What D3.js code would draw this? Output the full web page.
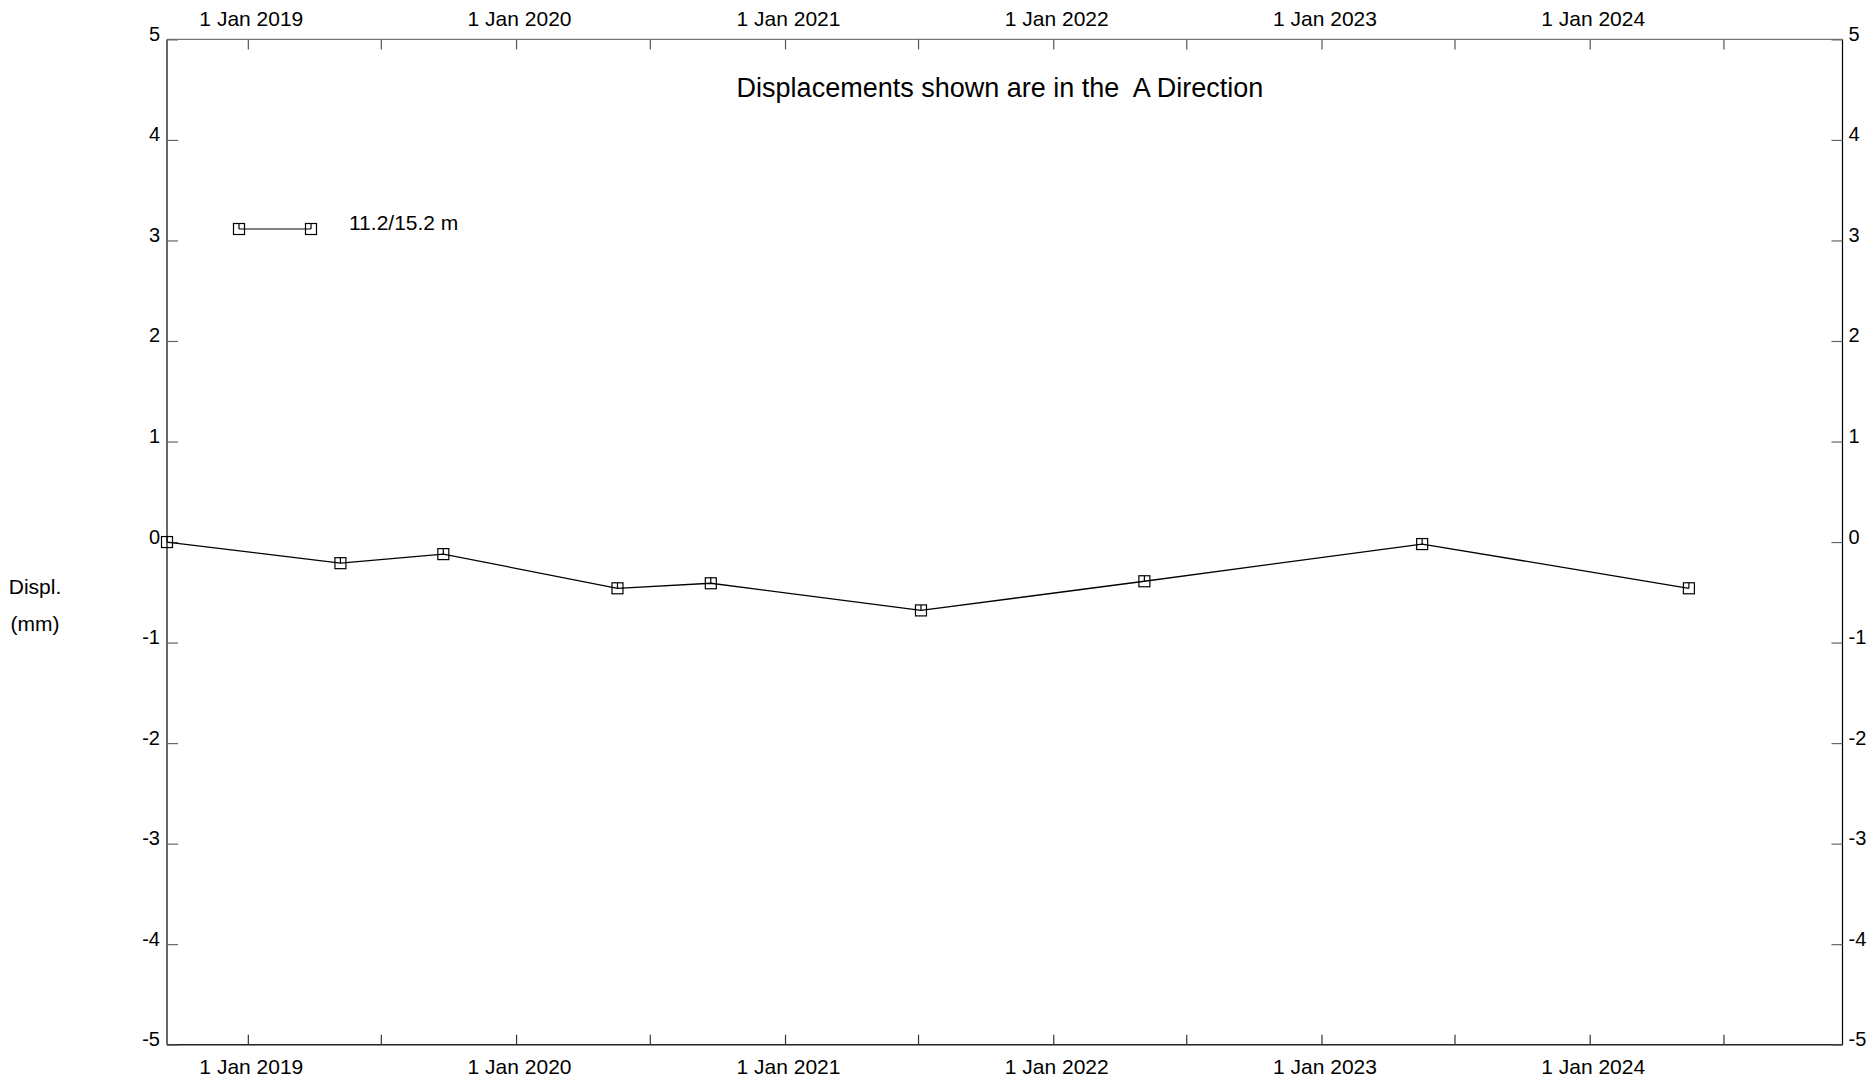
<!DOCTYPE html>
<html>
<head>
<meta charset="utf-8">
<script src="https://cdn.jsdelivr.net/npm/d3@7"></script>
<style>
  html, body { margin: 0; padding: 0; background: #fff; }
  svg { display: block; font-family: "Liberation Sans", Arial, sans-serif; }
</style>
</head>
<body>
<svg id="chart" width="1870" height="1079"></svg>
<script>
// ---- data ----
const readingDates = ["2018-09-13", "2019-05-07", "2019-09-24", "2020-05-18", "2020-09-22",
                      "2021-07-05", "2022-05-05", "2023-05-18", "2024-05-15"];
const displacement = [0.00, -0.21, -0.12, -0.46, -0.41, -0.68, -0.39, -0.02, -0.46];
const seriesName = "11.2/15.2 m";
const yTickValues = [-5, -4, -3, -2, -1, 0, 1, 2, 3, 4, 5];
const xDomain = ["2018-09-13", "2024-12-10"];
const titleText = "Displacements shown are in the  A Direction";
const yLabelLines = ["Displ.", "(mm)"];

// ---- layout ----
const W = 1870, H = 1079;
const margin = { left: 167, right: 27.5, top: 39.4, bottom: 34.3 };
const iw = W - margin.left - margin.right;
const ih = H - margin.top - margin.bottom;

const parse = d3.utcParse("%Y-%m-%d");
const data = readingDates.map((d, i) => ({ date: parse(d), value: displacement[i] }));

const svg = d3.select("#chart");
const g = svg.append("g").attr("transform", `translate(${margin.left},${margin.top})`);

const x = d3.scaleUtc().domain(xDomain.map(parse)).range([0, iw]);
const y = d3.scaleLinear().domain([-5, 5]).range([ih, 0]);

const fmt = d => d.getUTCMonth() === 0 ? "1 Jan " + d.getUTCFullYear() : "";
const xTicks = d3.utcMonth.every(6);
const yFmt = d => String(d);

// frame
g.append("line").attr("x1", 0).attr("x2", 0).attr("y1", 0).attr("y2", ih).attr("stroke", "#000").attr("stroke-width", 1.2);
g.append("line").attr("x1", iw).attr("x2", iw).attr("y1", 0).attr("y2", ih).attr("stroke", "#000").attr("stroke-width", 1.2);
g.append("line").attr("x1", 0).attr("x2", iw).attr("y1", 0).attr("y2", 0).attr("stroke", "#777").attr("stroke-width", 1.4);
g.append("line").attr("x1", 0).attr("x2", iw).attr("y1", ih).attr("y2", ih).attr("stroke", "#222").attr("stroke-width", 1.4);

function styleAxis(sel, tickColor, fs) {
  sel.select(".domain").remove();
  sel.selectAll(".tick line").attr("stroke", tickColor).attr("stroke-width", 1.2);
  sel.selectAll(".tick text").attr("fill", "#000").attr("font-size", fs)
     .attr("font-family", "Liberation Sans, Arial, sans-serif");
}

// top axis
const topAx = g.append("g")
  .call(d3.axisTop(x).ticks(xTicks).tickFormat(fmt).tickSize(-10).tickPadding(13));
styleAxis(topAx, "#555", 21);
topAx.selectAll(".tick text").attr("dx", 3);

// bottom axis
const botAx = g.append("g").attr("transform", `translate(0,${ih})`)
  .call(d3.axisBottom(x).ticks(xTicks).tickFormat(fmt).tickSize(-10).tickPadding(14));
styleAxis(botAx, "#333", 21);
botAx.selectAll(".tick text").attr("dx", 3);

// left axis
const leftAx = g.append("g")
  .call(d3.axisLeft(y).tickValues(yTickValues).tickFormat(yFmt).tickSize(-11).tickPadding(7));
styleAxis(leftAx, "#666", 20);
leftAx.selectAll(".tick text").attr("dy", "0.05em");

// right axis
const rightAx = g.append("g").attr("transform", `translate(${iw},0)`)
  .call(d3.axisRight(y).tickValues(yTickValues).tickFormat(yFmt).tickSize(-11).tickPadding(6));
styleAxis(rightAx, "#666", 20);
rightAx.selectAll(".tick text").attr("dy", "0.05em");

// title
svg.append("text").attr("x", 1000).attr("y", 97).attr("text-anchor", "middle")
  .attr("font-size", 27).attr("fill", "#000").style("white-space", "pre").text(titleText);

// y label
svg.append("g").selectAll("text").data(yLabelLines).join("text")
  .attr("x", 35).attr("y", (d, i) => 594 + i * 37).attr("text-anchor", "middle")
  .attr("font-size", 21).attr("fill", "#000").text(d => d);

// marker
function marker(sel, s) {
  sel.append("rect").attr("x", -s / 2).attr("y", -s / 2).attr("width", s).attr("height", s)
    .attr("fill", "none").attr("stroke", "#000").attr("stroke-width", 1.2);
  sel.append("line").attr("x1", 0).attr("x2", 0).attr("y1", -s / 2).attr("y2", 0)
    .attr("stroke", "#000").attr("stroke-width", 1.2);
}

// series line
const line = d3.line().x(d => x(d.date)).y(d => y(d.value));
g.append("path").datum(data).attr("d", line).attr("fill", "none")
  .attr("stroke", "#000").attr("stroke-width", 1.3);

g.selectAll("g.pt").data(data).join("g").attr("class", "pt")
  .attr("transform", d => `translate(${x(d.date)},${y(d.value)})`)
  .each(function () { marker(d3.select(this), 11); });

// legend
const leg = svg.append("g");
leg.append("line").attr("x1", 239).attr("x2", 311).attr("y1", 229).attr("y2", 229)
  .attr("stroke", "#000").attr("stroke-width", 1.2);
[239, 311].forEach(px => {
  const m = leg.append("g").attr("transform", `translate(${px},229)`);
  marker(m, 11);
});
leg.append("text").attr("x", 349).attr("y", 230).attr("font-size", 21).attr("fill", "#000").text(seriesName);
</script>
</body>
</html>
